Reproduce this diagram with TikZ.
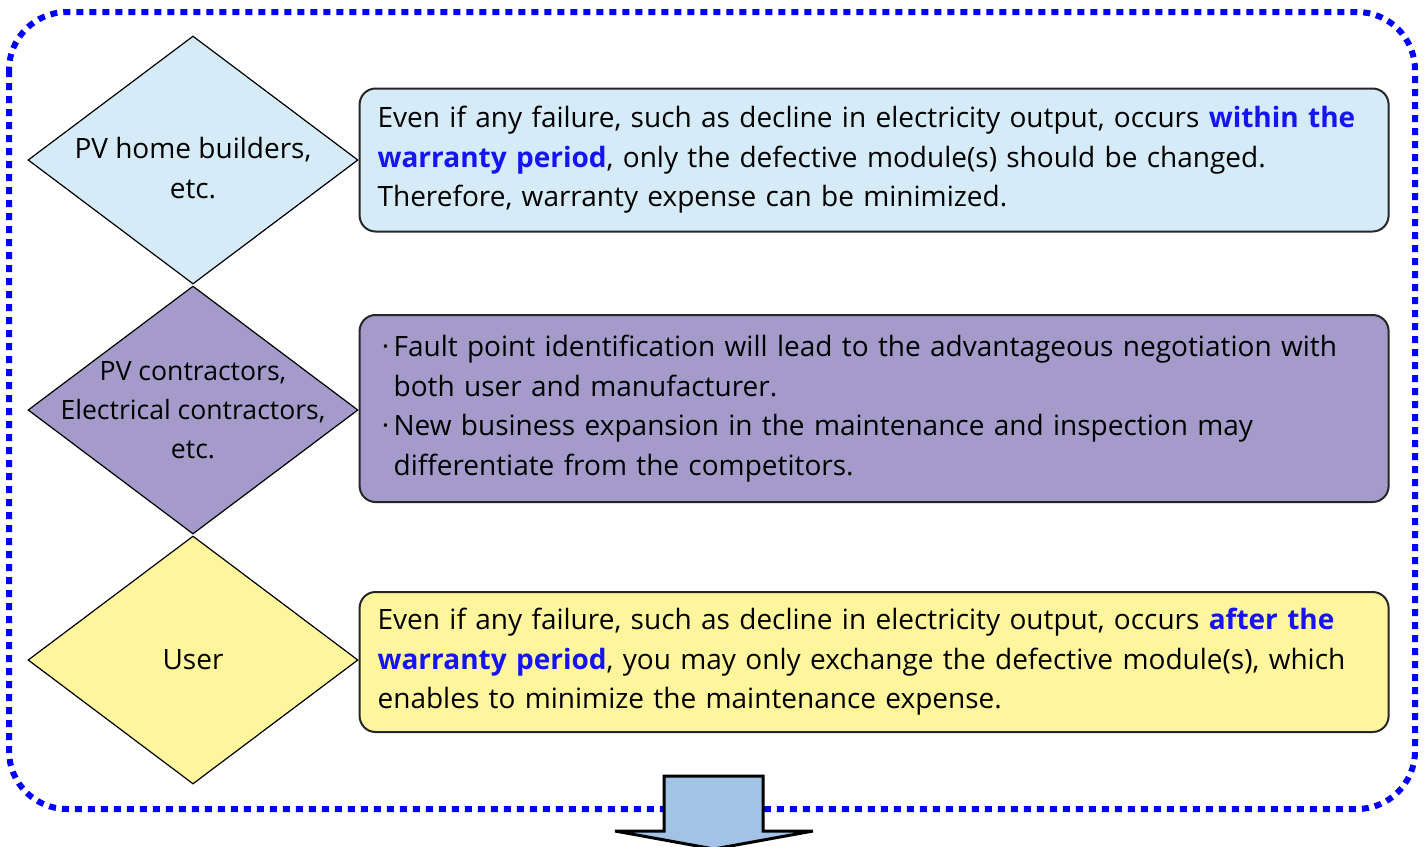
\documentclass[tikz,border=0pt]{standalone}
\usepackage{fontspec}
\setmainfont{Open Sans}
\usetikzlibrary{shapes.geometric}
\definecolor{skyfill}{HTML}{D5EBF8}
\definecolor{lilacfill}{HTML}{A59BCB}
\definecolor{lemonfill}{HTML}{FFF59D}
\definecolor{arrowfill}{HTML}{A3C3E6}
\definecolor{keyblue}{HTML}{1414F5}
\newcommand{\hl}[1]{{\color{keyblue}\bfseries #1}}
\newcommand{\itm}{\makebox[8pt][c]{·}}
\newcommand{\hang}{\hspace*{8pt}}

\begin{document}
\begin{tikzpicture}[x=0.5pt,y=-0.5pt,font=\fontsize{14}{19.75}\selectfont,
  role/.style={diamond,draw,line width=0.6pt,minimum width=165pt,minimum height=124pt,inner sep=0pt},
  note/.style={draw=black!85,line width=1pt,rounded corners=8pt,text width=496.5pt,
    inner xsep=9pt,inner ysep=0pt,align=left,anchor=west}]
\useasboundingbox (0,0) rectangle (1426,847);

% dotted frame
\draw[blue,line width=3pt,dash pattern=on 3.5pt off 3pt,rounded corners=29pt]
  (9,12) rectangle (1415,809);

% who
\node[role,fill=skyfill,label={[align=center,yshift=-4pt]center:PV home builders,\\etc.}] (d1) at (193,160) {};
\node[role,fill=lilacfill,label={[align=center,font=\fontsize{13.3}{19.5}\selectfont]center:PV contractors,\\Electrical contractors,\\etc.}] (d2) at (193,410) {};
\node[role,fill=lemonfill,label={[align=center]center:User}] (d3) at (193,660) {};

% merits
\node[note,fill=skyfill,minimum height=71.5pt] (b1) at (d1.east)
  {Even if any failure, such as decline in electricity output, occurs \hl{within the}\\
   \hl{warranty period}, only the defective module(s) should be changed.\\
   Therefore, warranty expense can be minimized.};
\node[note,fill=lilacfill,minimum height=93.5pt] (b2) at ([yshift=0.75pt]d2.east)
  {\itm Fault point identification will lead to the advantageous negotiation with\\
   \hang both user and manufacturer.\\
   \itm New business expansion in the maintenance and inspection may\\
   \hang differentiate from the competitors.};
\node[note,fill=lemonfill,minimum height=70pt] (b3) at ([yshift=-1pt]d3.east)
  {Even if any failure, such as decline in electricity output, occurs \hl{after the}\\
   \hl{warranty period}, you may only exchange the defective module(s), which\\
   enables to minimize the maintenance expense.};

% down arrow
\draw[fill=arrowfill,line width=1.5pt]
  (664,776) -- (763,776) -- (763,831) -- (813,831) -- (714,849)
  -- (615,831) -- (664,831) -- cycle;
\end{tikzpicture}
\end{document}
